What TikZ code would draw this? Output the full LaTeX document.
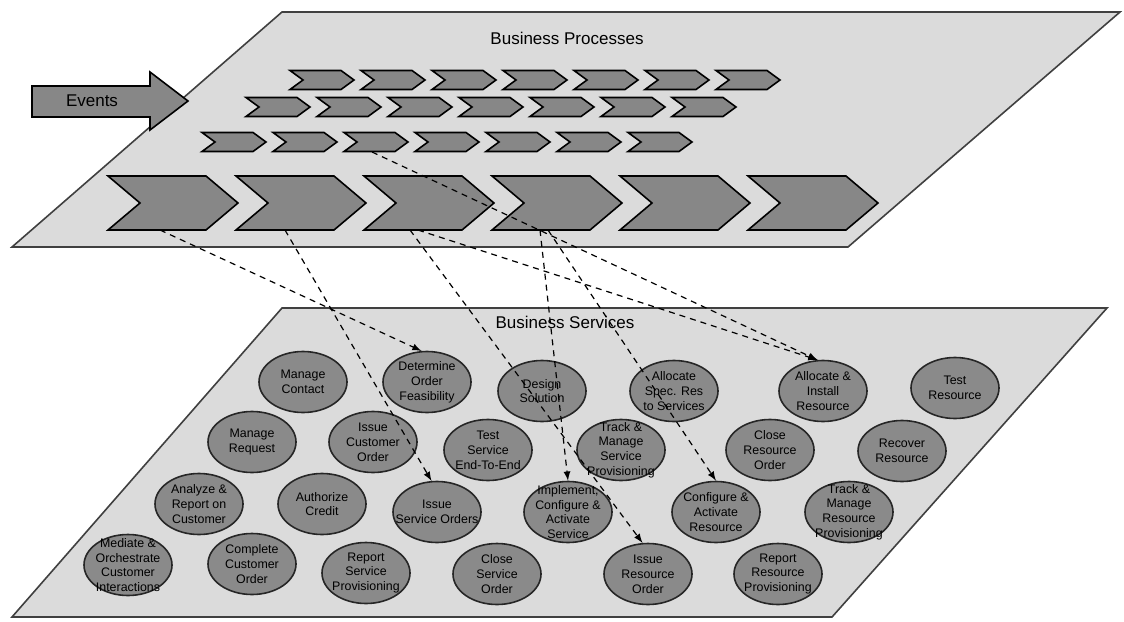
\documentclass[tikz,border=0pt]{standalone}
\usepackage{fontspec}
\setmainfont{Liberation Sans}
\usetikzlibrary{shapes.geometric}

\begin{document}
\begin{tikzpicture}[x=0.5pt,y=-0.5pt,
	ebene/.style={draw=black!75,line width=0.8pt,fill=black!14},
	pfeil/.style={draw=black,line width=0.8pt,fill=black!47},
	dienst/.style={ellipse,draw=black!85,line width=0.8pt,fill=black!46,
		minimum width=44pt,minimum height=30.5pt,inner sep=0pt},
	dienstext/.style={align=center,inner sep=0pt,
		font=\fontsize{6.2}{7.4}\selectfont},
	titel/.style={font=\fontsize{8.5}{10}\selectfont},
	bezug/.style={-latex,line width=0.6pt,dash pattern=on 3pt off 2.5pt}]
\useasboundingbox (0,0) rectangle (1124,621);

\draw[ebene] (12,247)--(848,247)--(1120,12)--(282,12)--cycle;
\draw[ebene] (12,617)--(832,617)--(1107,308)--(282,308)--cycle;

\node[titel] (bp) at (567,38) {Business Processes};
\node[titel] (bs) at (565,322) {Business Services};

\draw[pfeil] (32,86)--(150,86)--(150,72)--(188,101)--(150,130)--(150,117)--(32,117)--cycle;
\node[titel] (ev) at (92,101) {Events};

\def\kpfeil#1#2{%
\draw[pfeil] (#1,{#2-9.5})--({#1+51},{#2-9.5})--({#1+64},#2)
	--({#1+51},{#2+9.5})--(#1,{#2+9.5})--({#1+13},#2)--cycle;
}

\def\gpfeil#1#2{%
\draw[pfeil] (#1,{#2-27})--({#1+98},{#2-27})--({#1+130},#2)
	--({#1+98},{#2+27})--(#1,{#2+27})--({#1+32},#2)--cycle;
}

\def\dienst#1#2#3{%
\node[dienst] (#1) at #2 {};
\node[dienstext] (#1t) at (#1) {#3};
}

\kpfeil{290}{80};
\kpfeil{361}{80};
\kpfeil{432}{80};
\kpfeil{503}{80};
\kpfeil{574}{80};
\kpfeil{645}{80};
\kpfeil{716}{80};

\kpfeil{246}{107};
\kpfeil{317}{107};
\kpfeil{388}{107};
\kpfeil{459}{107};
\kpfeil{530}{107};
\kpfeil{601}{107};
\kpfeil{672}{107};

\kpfeil{202}{142};
\kpfeil{273}{142};
\kpfeil{344}{142};
\kpfeil{415}{142};
\kpfeil{486}{142};
\kpfeil{557}{142};
\kpfeil{628}{142};

\gpfeil{108}{203};
\gpfeil{236}{203};
\gpfeil{364}{203};
\gpfeil{492}{203};
\gpfeil{620}{203};
\gpfeil{748}{203};

\coordinate (g1) at (160,230);
\coordinate (g2) at (285,230);
\coordinate (g3) at (410,230);
\coordinate (g3b) at (418,230);
\coordinate (k3) at (372,152);
\coordinate (g4) at (540,230);
\coordinate (g4b) at (548,230);

\dienst{mc}{(303,382)}{Manage\\Contact};
\dienst{dof}{(427,382)}{Determine\\Order\\Feasibility};
\dienst{ds}{(542,391)}{Design\\Solution};
\dienst{asr}{(674,391)}{Allocate\\Spec. Res\\to Services};
\dienst{air}{(823,391)}{Allocate \&\\Install\\Resource};
\dienst{tr}{(955,388)}{Test\\Resource};

\dienst{mr}{(252,442)}{Manage\\Request};
\dienst{ico}{(373,442)}{Issue\\Customer\\Order};
\dienst{tse}{(488,450)}{Test\\Service\\End-To-End};
\dienst{tmsp}{(621,450)}{Track \&\\Manage\\Service\\Provisioning};
\dienst{cro}{(770,450)}{Close\\Resource\\Order};
\dienst{rr}{(902,451)}{Recover\\Resource};

\dienst{arc}{(199,504)}{Analyze \&\\Report on\\Customer};
\dienst{ac}{(322,504)}{Authorize\\Credit};
\dienst{iso}{(437,512)}{Issue\\Service Orders};
\dienst{icas}{(568,512)}{Implement,\\Configure \&\\Activate\\Service};
\dienst{car}{(716,512)}{Configure \&\\Activate\\Resource};
\dienst{tmrp}{(849,512)}{Track \&\\Manage\\Resource\\Provisioning};

\dienst{moci}{(128,565)}{Mediate \&\\Orchestrate\\Customer\\Interactions};
\dienst{cco}{(252,564)}{Complete\\Customer\\Order};
\dienst{rsp}{(366,573)}{Report\\Service\\Provisioning};
\dienst{cso}{(497,574)}{Close\\Service\\Order};
\dienst{iro}{(648,574)}{Issue\\Resource\\Order};
\dienst{rrp}{(778,574)}{Report\\Resource\\Provisioning};

\draw[bezug] (g1)--(dof.100);
\draw[bezug] (g2)--(iso.100);
\draw[bezug] (g3)--(iro.100);
\draw[bezug] (g3b)--(air.100);
\draw[bezug] (k3)--(air.100);
\draw[bezug] (g4)--(icas.north);
\draw[bezug] (g4b)--(car.north);

\end{tikzpicture}
\end{document}
